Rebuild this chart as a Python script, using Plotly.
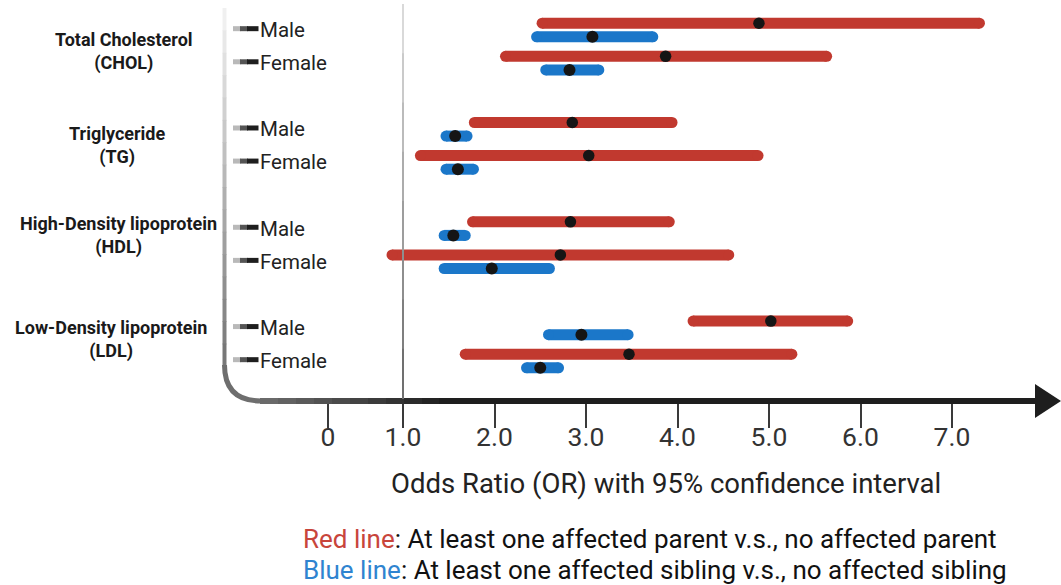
import plotly.graph_objects as go

# ---------------- data ----------------
groups = ["Total Cholesterol", "Triglyceride", "High-Density lipoprotein", "Low-Density lipoprotein"]
group_abbr = ["(CHOL)", "(TG)", "(HDL)", "(LDL)"]
sexes = ["Male", "Female"]

# order: CHOL M, CHOL F, TG M, TG F, HDL M, HDL F, LDL M, LDL F
parent_or = [4.89, 3.87, 2.85, 3.03, 2.83, 2.72, 5.02, 3.47]
parent_lo = [2.52, 2.12, 1.78, 1.19, 1.76, 0.88, 4.17, 1.68]
parent_hi = [7.30, 5.63, 3.94, 4.88, 3.91, 4.56, 5.86, 5.25]

sibling_or = [3.07, 2.82, 1.57, 1.60, 1.55, 1.97, 2.95, 2.50]
sibling_lo = [2.46, 2.56, 1.47, 1.47, 1.45, 1.45, 2.59, 2.35]
sibling_hi = [3.73, 3.14, 1.70, 1.77, 1.68, 2.60, 3.46, 2.70]

tick_labels = ["0", "1.0", "2.0", "3.0", "4.0", "5.0", "6.0", "7.0"]
# the original figure draws its "0" tick closer to 1.0 than the scale implies
tick_values = [0.18, 1, 2, 3, 4, 5, 6, 7]

# ---------------- layout helpers ----------------
W, H = 1061, 585
RED = "#C1392F"
BLUE = "#1B77C9"
DOT = "#151515"
FONT = "Roboto"


def px(x):
    return x / W


def py(y):
    return 1 - y / H


# x scale: value 1.0 at 403 px, 91.5 px per unit
X_RANGE = [1 - 403 / 91.5, 1 + (W - 403) / 91.5]
# y scale: row units, row 0 at 30 px, 33.1 px per unit
ROW0, STEP = 30.0, 33.1
Y_RANGE = [(H - ROW0) / STEP, -ROW0 / STEP]
OFF = 0.205

rows = []
for g in range(len(groups)):
    for s in range(len(sexes)):
        rows.append(g * 3 + s)


def bar_xy(lo, hi, ys):
    xs, yy = [], []
    for a, b, y in zip(lo, hi, ys):
        xs += [a, b, None]
        yy += [y, y, None]
    return xs, yy


fig = go.Figure()

red_y = [r - OFF for r in rows]
blue_y = [r + OFF for r in rows]

for lo, hi, ys, col, name in [
    (parent_lo, parent_hi, red_y, RED, "parent"),
    (sibling_lo, sibling_hi, blue_y, BLUE, "sibling"),
]:
    xs, yy = bar_xy(lo, hi, ys)
    fig.add_trace(go.Scatter(
        x=xs, y=yy, mode="lines+markers", name=name,
        line=dict(color=col, width=11),
        marker=dict(color=col, size=11, line=dict(width=0)),
        showlegend=False, hoverinfo="skip"))

fig.add_trace(go.Scatter(x=parent_or, y=red_y, mode="markers", showlegend=False,
                         marker=dict(color=DOT, size=11.5, line=dict(width=0))))
fig.add_trace(go.Scatter(x=sibling_or, y=blue_y, mode="markers", showlegend=False,
                         marker=dict(color=DOT, size=12, line=dict(width=0))))

shapes = []


def grad_line(x0, y0, x1, y1, c0, c1, n, width, xref="paper", yref="paper"):
    for i in range(n):
        t0, t1 = i / n, (i + 1) / n
        t = (i + 0.5) / n
        col = "rgb(%d,%d,%d)" % tuple(int(c0[k] + (c1[k] - c0[k]) * t) for k in range(3))
        shapes.append(dict(type="line", xref=xref, yref=yref,
                           x0=x0 + (x1 - x0) * t0, x1=x0 + (x1 - x0) * t1 + (x1 - x0) * 0.002,
                           y0=y0 + (y1 - y0) * t0, y1=y0 + (y1 - y0) * t1 + (y1 - y0) * 0.002,
                           line=dict(color=col, width=width)))


# left vertical frame line (fading upward)
grad_line(px(224.5), py(8), px(224.5), py(366), (245, 245, 245), (115, 115, 115), 16, 4)
# rounded corner
shapes.append(dict(type="path", xref="paper", yref="paper",
                   path="M %f,%f Q %f,%f %f,%f" % (px(224.5), py(365), px(224.5), py(401),
                                                 px(261), py(401)),
                   line=dict(color="rgb(110,110,110)", width=5)))
# horizontal axis line
grad_line(px(260), py(401), px(440), py(401), (110, 110, 110), (32, 32, 32), 10, 6)
shapes.append(dict(type="line", xref="paper", yref="paper", x0=px(439), x1=px(1040),
                   y0=py(401), y1=py(401), line=dict(color="rgb(30,30,30)", width=6)))
# arrowhead
shapes.append(dict(type="path", xref="paper", yref="paper",
                   path="M %f,%f L %f,%f L %f,%f Z" % (px(1035), py(384), px(1061), py(401),
                                                     px(1035), py(418)),
                   fillcolor="rgb(30,30,30)", line=dict(width=0)))
# reference line at OR = 1
for i in range(8):
    t0, t1 = i / 8, (i + 1) / 8
    c = int(225 - (225 - 105) * (i + 0.5) / 8)
    shapes.append(dict(type="line", xref="x", yref="paper", x0=1, x1=1,
                       y0=py(4 + (398 - 4) * t0), y1=py(4 + (398 - 4) * t1 + 1),
                       line=dict(color="rgb(%d,%d,%d)" % (c, c, c), width=2)))

annotations = []
# row labels with small gradient dashes
for i, r in enumerate(rows):
    for (a, b, c) in [(233, 241, 185), (240, 248, 85), (247, 258.5, 30)]:
        shapes.append(dict(type="line", xref="paper", yref="y", x0=px(a), x1=px(b),
                           y0=r - 0.04, y1=r - 0.04,
                           line=dict(color="rgb(%d,%d,%d)" % (c, c, c), width=5)))
    annotations.append(dict(text=sexes[i % 2], xref="paper", yref="y", x=px(257.5), y=r,
                            xanchor="left", yanchor="middle", showarrow=False,
                            font=dict(family=FONT, size=20.5, color="#222")))

label_cx = [124, 117, 118, 111]
label_dy = [5, 0, -10, -5]   # pixel nudges of the group labels
for g in range(len(groups)):
    annotations.append(dict(text="<b>%s</b><br><b>%s</b>" % (groups[g], group_abbr[g]),
                            xref="paper", yref="y", x=px(label_cx[g]),
                            y=g * 3 + 0.5 + label_dy[g] / STEP,
                            xanchor="center", yanchor="middle", showarrow=False, align="center",
                            font=dict(family=FONT, size=18, color="#1a1a1a")))

annotations.append(dict(text="Odds Ratio (OR) with 95% confidence interval",
                        xref="paper", yref="paper", x=px(666), y=py(483),
                        xanchor="center", yanchor="middle", showarrow=False,
                        font=dict(family=FONT, size=27.5, color="#222")))
annotations.append(dict(
    text='<span style="color:%s">Red line</span>: At least one affected parent v.s., no affected parent' % "#C8453B",
    xref="paper", yref="paper", x=px(301), y=py(538.5), xanchor="left", yanchor="middle",
    showarrow=False, font=dict(family=FONT, size=26, color="#111")))
annotations.append(dict(
    text='<span style="color:%s">Blue line</span>: At least one affected sibling v.s., no affected sibling' % "#2F84D0",
    xref="paper", yref="paper", x=px(301), y=py(569.5), xanchor="left", yanchor="middle",
    showarrow=False, font=dict(family=FONT, size=26, color="#111")))

fig.update_layout(
    width=W, height=H, autosize=False,
    margin=dict(l=0, r=0, t=0, b=0, pad=0),
    paper_bgcolor="white", plot_bgcolor="white",
    showlegend=False,
    shapes=shapes, annotations=annotations,
    xaxis=dict(range=X_RANGE, domain=[0, 1], anchor="free", position=py(401),
               showgrid=False, zeroline=False, showline=False,
               tickmode="array", tickvals=tick_values, ticktext=tick_labels,
               ticks="outside", ticklen=26, tickwidth=2, tickcolor="#3a3a3a",
               tickfont=dict(family=FONT, size=26.5, color="#333"),
               ticklabelstandoff=-14, fixedrange=True),
    yaxis=dict(range=Y_RANGE, visible=False, fixedrange=True),
)

fig.write_html("out.html")
